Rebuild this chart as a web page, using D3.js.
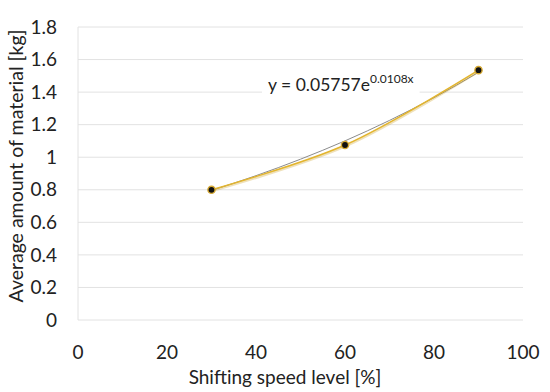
<!DOCTYPE html>
<html>
<head>
<style>
  body { margin: 0; background: #fff; }
  text { font-family: Lato, "Open Sans", sans-serif; fill: #222; }
</style>
<script src="https://d3js.org/d3.v7.min.js"></script>
</head>
<body>
<script>
const speed = [30, 60, 90];
const material = [0.80, 1.075, 1.535];
const xTicks = [0, 20, 40, 60, 80, 100];
const yTicks = [0, 0.2, 0.4, 0.6, 0.8, 1, 1.2, 1.4, 1.6, 1.8];
// exponential trendline (drawn curve), label as printed on the chart
const trendA = 0.5757, trendB = 0.0108;
const trendSteps = [30, 35, 40, 45, 50, 55, 60, 65, 70, 75, 80, 85, 90];

const w = 550, h = 392;
const svg = d3.select("body").append("svg").attr("width", w).attr("height", h);

const x = d3.scaleLinear().domain([0, 100]).range([78, 523]);
const y = d3.scaleLinear().domain([0, 1.8]).range([320, 27]);

// gridlines
svg.append("g").selectAll("line").data(yTicks).enter().append("line")
  .attr("x1", x(0)).attr("x2", x(100))
  .attr("y1", d => y(d)).attr("y2", d => y(d))
  .attr("stroke", "#e2e2e2").attr("stroke-width", 1);
svg.append("line").attr("x1", x(0)).attr("x2", x(0)).attr("y1", y(1.8)).attr("y2", y(0))
  .attr("stroke", "#e2e2e2");

// tick labels
svg.append("g").selectAll("text").data(yTicks).enter().append("text")
  .attr("x", 57).attr("y", d => y(d)).attr("dy", "0.35em")
  .attr("text-anchor", "end").style("font-size", "19px")
  .text(d => d3.format("")(d));
svg.append("g").selectAll("text").data(xTicks).enter().append("text")
  .attr("x", d => x(d)).attr("y", 352).attr("dy", "0.35em")
  .attr("text-anchor", "middle").style("font-size", "19px")
  .text(d => d);

// axis titles
svg.append("text").attr("x", 285).attr("y", 384)
  .attr("text-anchor", "middle").style("font-size", "19px")
  .text("Shifting speed level [%]");
svg.append("text").attr("transform", "translate(23,166) rotate(-90)")
  .attr("text-anchor", "middle").style("font-size", "19.5px")
  .text("Average amount of material [kg]");

// trendline
const trendLine = d3.line().x(d => x(d)).y(d => y(trendA * Math.exp(trendB * d)));
svg.append("path").datum(trendSteps).attr("d", trendLine)
  .attr("fill", "none").attr("stroke", "#8c8c8c").attr("stroke-width", 1);

// series line
const pts = speed.map((s, i) => [s, material[i]]);
const serLine = d3.line().x(d => x(d[0])).y(d => y(d[1])).curve(d3.curveCatmullRom);
svg.append("path").datum(pts).attr("d", serLine)
  .attr("fill", "none").attr("stroke", "#c99a1a").attr("stroke-width", 2.6)
  .attr("opacity", 0.3).attr("transform", "translate(0.5,1)");
svg.append("path").datum(pts).attr("d", serLine)
  .attr("fill", "none").attr("stroke", "#e3b52e").attr("stroke-width", 1.5);

// markers
svg.append("g").selectAll("circle").data(pts).enter().append("circle")
  .attr("cx", d => x(d[0])).attr("cy", d => y(d[1])).attr("r", 3.6)
  .attr("fill", "#111").attr("stroke", "#d6a933").attr("stroke-width", 1.4);

// equation label
const eqBox = svg.append("rect").attr("fill", "#fff");
const eq = svg.append("text").attr("x", 268).attr("y", 91).style("font-size", "17.5px");
eq.append("tspan").text("y = 0.05757e");
eq.append("tspan").attr("dy", -8).style("font-size", "12px").text("0.0108x");
const bb = eq.node().getBBox();
eqBox.attr("x", bb.x - 6).attr("y", bb.y - 1).attr("width", bb.width + 12).attr("height", bb.height + 6);
</script>
</body>
</html>
